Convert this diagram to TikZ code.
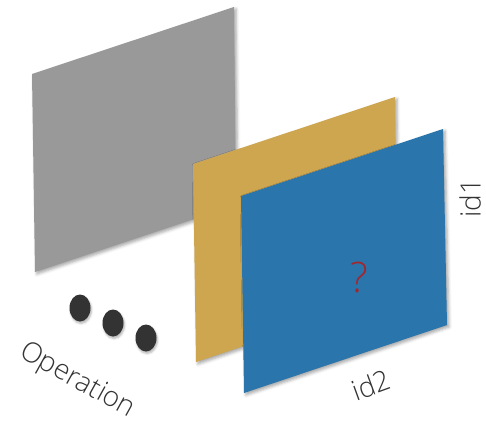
\documentclass[tikz,border=0pt]{standalone}
\usepackage{fontspec}
\IfFontExistsTF{Open Sans Light}{\newfontfamily\thinfont{Open Sans Light}}{\newfontfamily\thinfont{Open Sans}}
\usepackage{tikz}
\usetikzlibrary{shadows.blur}

\definecolor{slabgray}{HTML}{999999}
\definecolor{slabgold}{HTML}{CFA650}
\definecolor{slabblue}{HTML}{2A75AB}
\definecolor{markred}{HTML}{A3262C}
\definecolor{inkgray}{HTML}{333333}

\begin{document}
\begin{tikzpicture}[x=1pt,y=-1pt,
slab/.style={blur shadow={shadow xshift=2pt,shadow yshift=-2pt,shadow blur radius=3pt,shadow opacity=35}},
dot/.style={fill=inkgray,blur shadow={shadow xshift=1pt,shadow yshift=-2pt,shadow blur radius=2pt,shadow opacity=30}},
tag/.style={text=inkgray,font=\thinfont\fontsize{28}{28}\selectfont,inner sep=0pt}]
\useasboundingbox (0,0) rectangle (486,425);
% back slab
\fill[slabgray,slab] (32,74) -- (234,7) -- (236,205) -- (35,272) -- cycle;
% middle slab
\fill[slabgold,slab] (193,164) -- (395,97) -- (397,295) -- (196,362) -- cycle;
% front slab
\fill[slabblue,slab] (241,196) -- (443,129) -- (447,325) -- (244,393) -- cycle;
\node[text=markred,font=\thinfont\fontsize{42}{42}\selectfont,inner sep=0pt] (query) at (359,277) {?};
% axis labels
\node[tag,rotate=90] (idone) at (470,198) {id1};
\node[tag,rotate=20] (idtwo) at (371,385) {id2};
\node[tag,rotate=-29] (oplabel) at (77,381) {Operation};
% ellipsis
\foreach \px/\py [count=\k] in {80/308,113/323,146/338}
  \fill[dot] (\px,\py) ellipse [x radius=10.5,y radius=13.5];
\end{tikzpicture}
\end{document}
